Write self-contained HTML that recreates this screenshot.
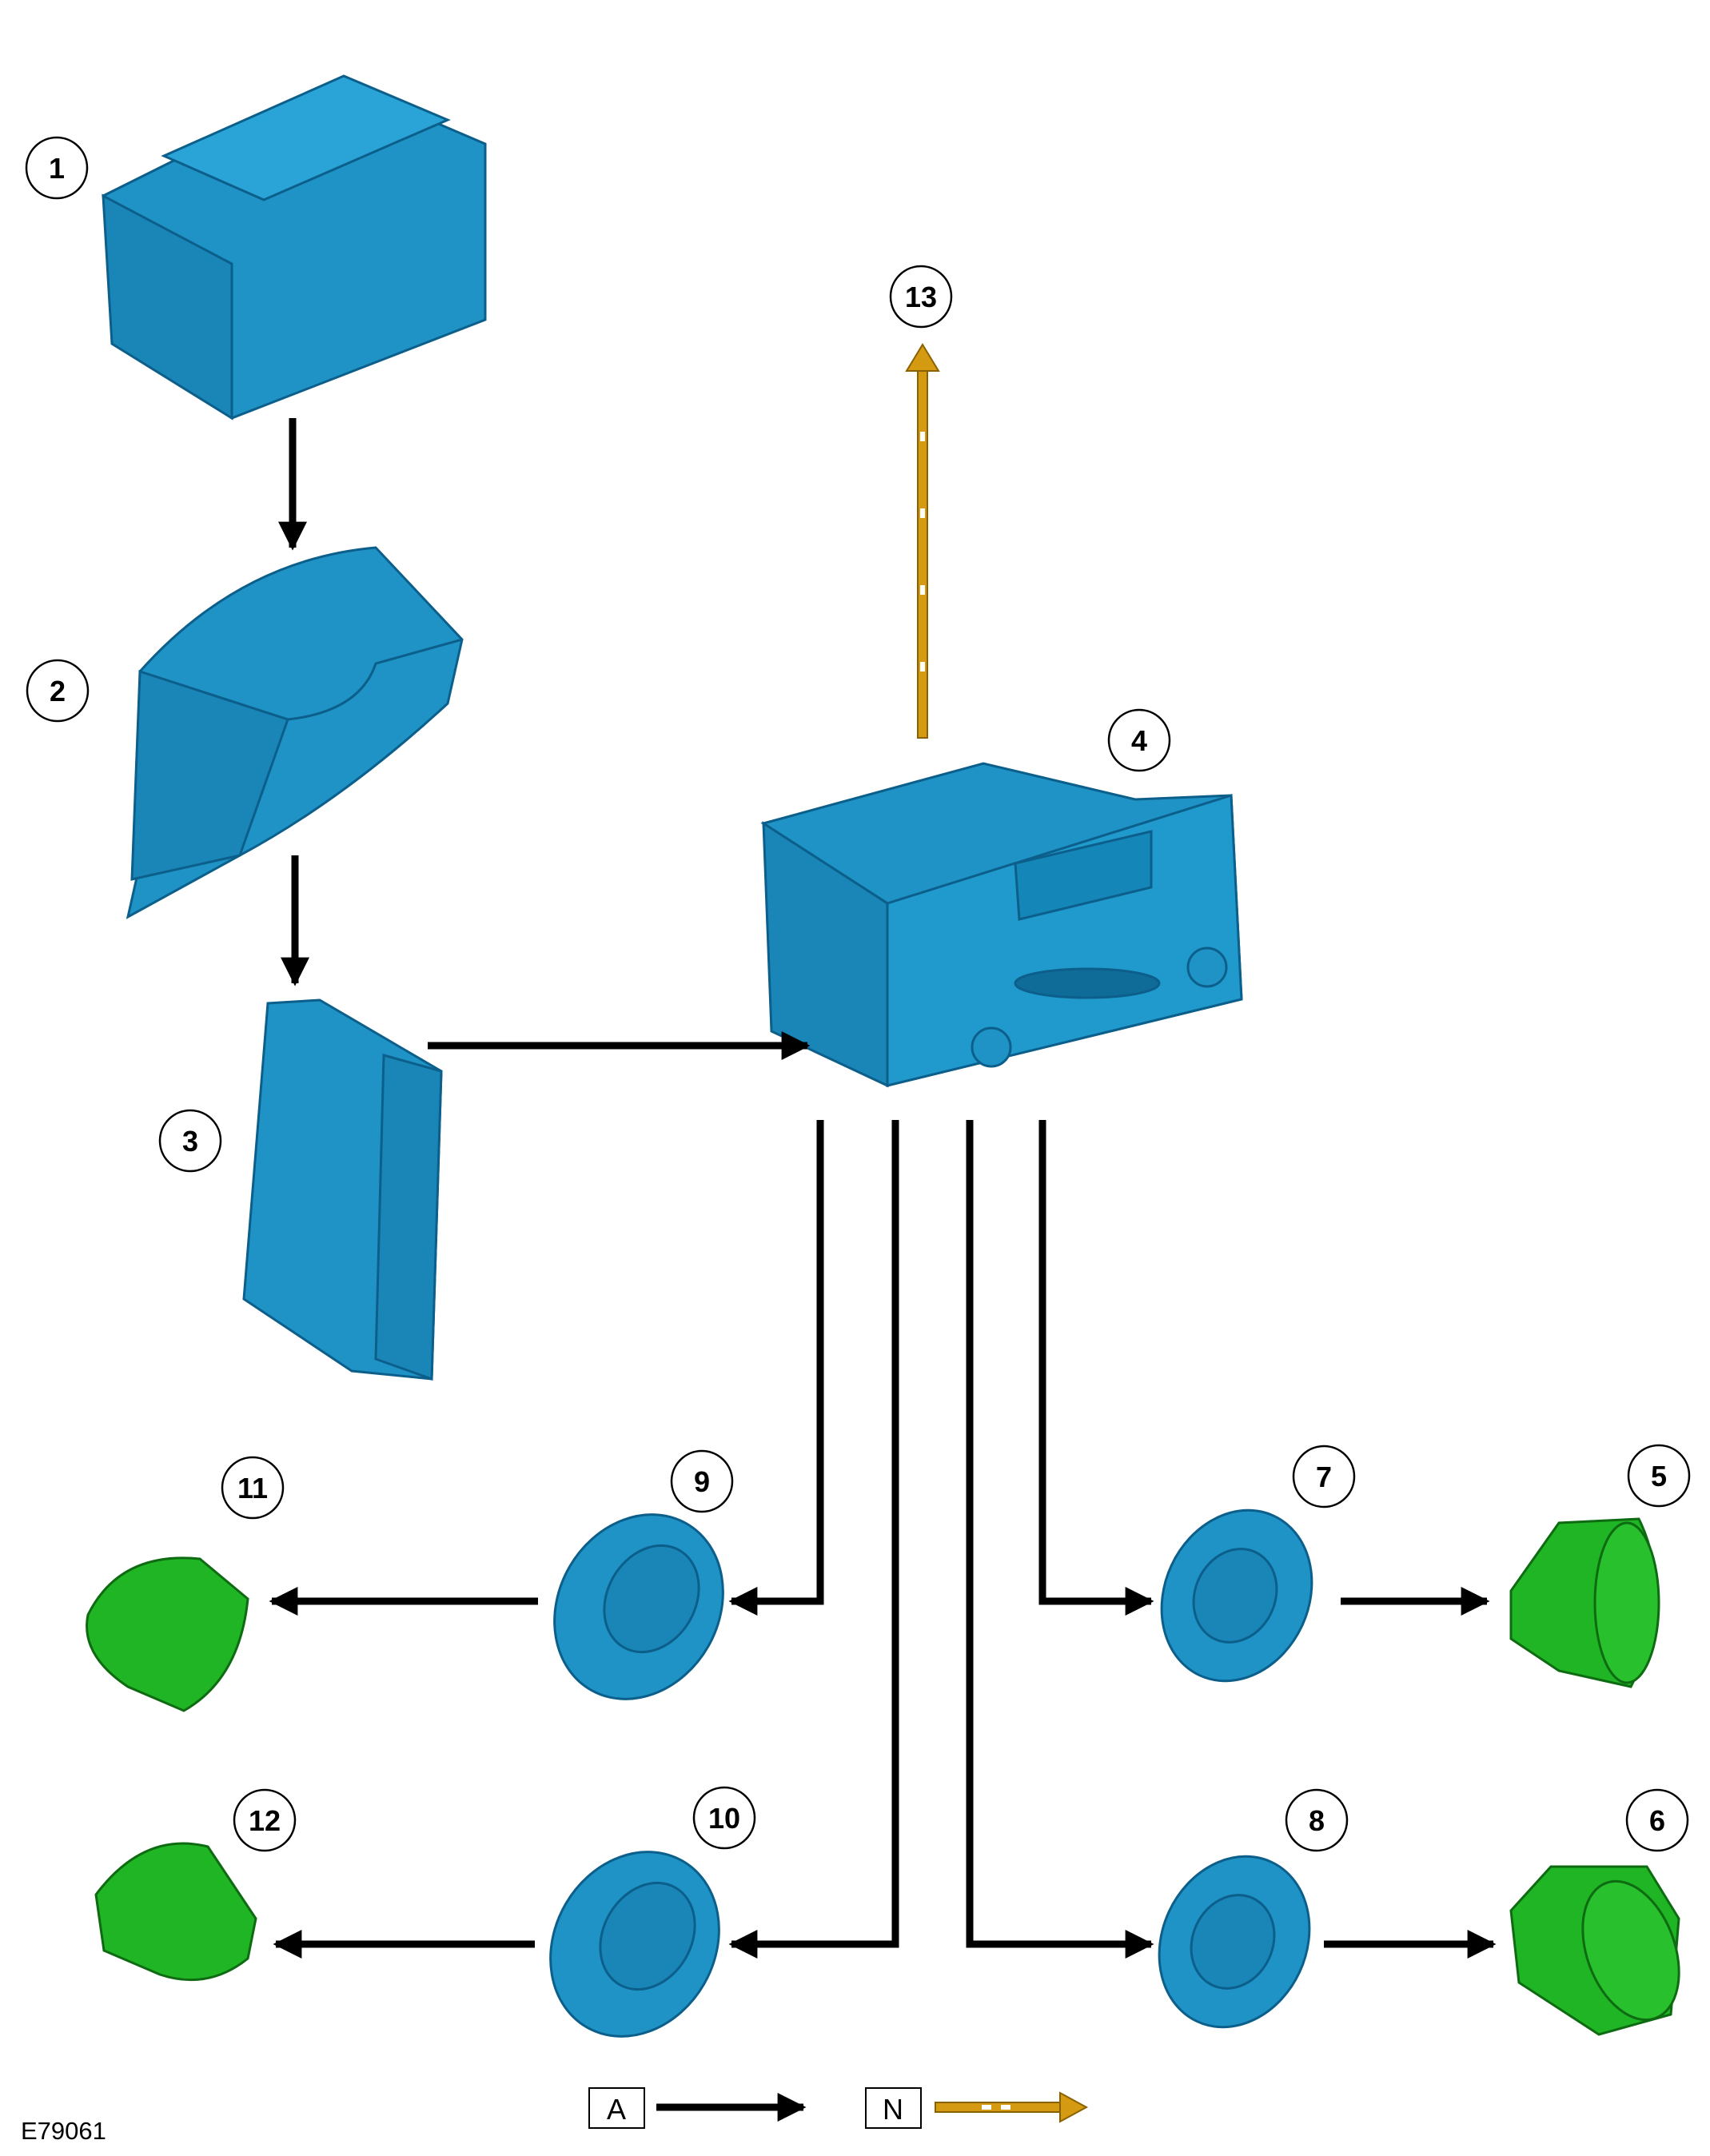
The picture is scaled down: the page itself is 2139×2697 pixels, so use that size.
<!DOCTYPE html>
<html><head><meta charset="utf-8"><style>
html,body{margin:0;padding:0;background:#fff}
svg{display:block}
text{font-family:"Liberation Sans",sans-serif;font-weight:bold}
</style></head><body>
<svg width="2139" height="2697" viewBox="0 0 2139 2697" xmlns="http://www.w3.org/2000/svg">
<defs>
<marker id="ah" viewBox="0 0 10 10" refX="9" refY="5" markerWidth="4" markerHeight="4" orient="auto" markerUnits="strokeWidth"><path d="M0,0 L10,5 L0,10 z" fill="#000"/></marker>
</defs>
<!-- Battery -->
<g fill="#1f93c6" stroke="#0b5f8a" stroke-width="3">
<polygon points="129,245 420,100 607,180 607,400 290,523 160,430"/>
<polygon points="129,245 290,330 290,523 140,430" fill="#1a86b8"/>
<polygon points="205,195 430,95 560,150 330,250" fill="#2aa3d6"/>
</g>
<!-- Part 2 -->
<g fill="#1f93c6" stroke="#0b5f8a" stroke-width="3">
<path d="M175,840 Q300,700 470,685 L578,800 L560,880 Q430,1000 300,1070 L160,1147 L175,1080 Z"/>
<path d="M175,840 L360,900 Q450,890 470,830 L578,800" fill="none"/>
<path d="M175,840 L165,1100 L300,1070 L360,900 Z" fill="#1a86b8"/>
</g>
<!-- Part 3 -->
<g fill="#1f93c6" stroke="#0b5f8a" stroke-width="3">
<polygon points="335,1255 400,1251 552,1340 540,1725 440,1715 305,1625"/>
<polygon points="480,1320 552,1340 540,1725 470,1700" fill="#1a86b8"/>
</g>
<!-- Radio -->
<g fill="#1f93c6" stroke="#0b5f8a" stroke-width="3">
<polygon points="955,1030 1230,955 1420,1000 1540,995 1553,1250 1110,1358 1110,1130"/>
<polygon points="955,1030 1110,1130 1110,1358 965,1290" fill="#1a86b8"/>
<polygon points="1110,1130 1540,995 1553,1250 1110,1358" fill="#2099cc"/>
<polygon points="1270,1080 1440,1040 1440,1110 1275,1150" fill="#1586b8"/>
<ellipse cx="1360" cy="1230" rx="90" ry="18" fill="#0f6b98"/>
<circle cx="1510" cy="1210" r="24"/><circle cx="1240" cy="1310" r="24"/>
</g>
<!-- Blue speakers -->
<g fill="#1f93c6" stroke="#0b5f8a" stroke-width="3">
<ellipse cx="799" cy="2010" rx="100" ry="120" transform="rotate(30 799 2010)"/>
<ellipse cx="815" cy="2000" rx="55" ry="70" transform="rotate(30 815 2000)" fill="#1a86b8"/>
<ellipse cx="794" cy="2432" rx="100" ry="120" transform="rotate(30 794 2432)"/>
<ellipse cx="810" cy="2422" rx="55" ry="70" transform="rotate(30 810 2422)" fill="#1a86b8"/>
<ellipse cx="1547" cy="1996" rx="90" ry="110" transform="rotate(25 1547 1996)"/>
<ellipse cx="1545" cy="1996" rx="50" ry="60" transform="rotate(25 1545 1996)" fill="#1a86b8"/>
<ellipse cx="1544" cy="2429" rx="90" ry="110" transform="rotate(25 1544 2429)"/>
<ellipse cx="1542" cy="2429" rx="50" ry="60" transform="rotate(25 1542 2429)" fill="#1a86b8"/>
</g>
<!-- Green speakers -->
<g fill="#1fb524" stroke="#0e6b12" stroke-width="3">
<path d="M110,2020 Q150,1940 250,1950 L310,2000 Q300,2100 230,2140 L160,2110 Q100,2070 110,2020Z"/>
<path d="M120,2370 Q180,2290 260,2310 L320,2400 L310,2450 Q260,2490 200,2470 L130,2440 Z"/>
<path d="M1890,1990 L1950,1905 L2050,1900 Q2080,1960 2070,2050 L2040,2110 L1950,2090 L1890,2050 Z"/>
<ellipse cx="2035" cy="2005" rx="40" ry="100" fill="#28c02d"/>
<path d="M1890,2390 L1940,2335 L2060,2335 L2100,2400 L2090,2520 L2000,2545 L1900,2480 Z"/>
<ellipse cx="2040" cy="2440" rx="55" ry="90" transform="rotate(-20 2040 2440)" fill="#28c02d"/>
</g>
<!-- Black connectors -->
<g stroke="#000" stroke-width="9" fill="none">
<line x1="366" y1="523" x2="366" y2="685" marker-end="url(#ah)"/>
<line x1="369" y1="1070" x2="369" y2="1230" marker-end="url(#ah)"/>
<line x1="535" y1="1308" x2="1010" y2="1308" marker-end="url(#ah)"/>
<polyline points="1026,1401 1026,2003 915,2003" marker-end="url(#ah)"/>
<polyline points="1120,1401 1120,2432 915,2432" marker-end="url(#ah)"/>
<polyline points="1213,1401 1213,2432 1440,2432" marker-end="url(#ah)"/>
<polyline points="1304,1401 1304,2003 1440,2003" marker-end="url(#ah)"/>
<line x1="673" y1="2003" x2="340" y2="2003" marker-end="url(#ah)"/>
<line x1="669" y1="2432" x2="345" y2="2432" marker-end="url(#ah)"/>
<line x1="1677" y1="2003" x2="1860" y2="2003" marker-end="url(#ah)"/>
<line x1="1656" y1="2432" x2="1868" y2="2432" marker-end="url(#ah)"/>
<line x1="821" y1="2636" x2="1005" y2="2636" marker-end="url(#ah)"/>
</g>
<!-- Gold arrow 13 -->
<rect x="1148" y="460" width="12" height="463" fill="#d49a12" stroke="#8a6000" stroke-width="2"/>
<g fill="#fff"><rect x="1151" y="540" width="6" height="12"/><rect x="1151" y="636" width="6" height="12"/><rect x="1151" y="732" width="6" height="12"/><rect x="1151" y="828" width="6" height="12"/></g>
<polygon points="1154,431 1134,464 1174,464" fill="#d49a12" stroke="#8a6000" stroke-width="2"/>
<!-- Legend gold -->
<rect x="1170" y="2630" width="160" height="12" fill="#d49a12" stroke="#8a6000" stroke-width="2"/>
<rect x="1228" y="2633" width="12" height="6" fill="#fff"/><rect x="1252" y="2633" width="12" height="6" fill="#fff"/>
<polygon points="1359,2636 1326,2618 1326,2654" fill="#d49a12" stroke="#8a6000" stroke-width="2"/>
<!-- Legend boxes -->
<rect x="737" y="2612" width="69" height="50" fill="#fff" stroke="#000" stroke-width="2"/>
<text x="771" y="2651" font-size="36" text-anchor="middle" style="font-weight:normal">A</text>
<rect x="1083" y="2612" width="69" height="50" fill="#fff" stroke="#000" stroke-width="2"/>
<text x="1117" y="2651" font-size="36" text-anchor="middle" style="font-weight:normal">N</text>
<text x="26" y="2676" font-size="31" style="font-weight:normal">E79061</text>
<!-- Callouts -->
<g fill="#fff" stroke="#000" stroke-width="2.5">
<circle cx="71" cy="210" r="38"/><circle cx="72" cy="864" r="38"/><circle cx="238" cy="1427" r="38"/>
<circle cx="1425" cy="926" r="38"/><circle cx="1152" cy="371" r="38"/>
<circle cx="316" cy="1861" r="38"/><circle cx="878" cy="1853" r="38"/><circle cx="1656" cy="1847" r="38"/><circle cx="2075" cy="1846" r="38"/>
<circle cx="331" cy="2277" r="38"/><circle cx="906" cy="2274" r="38"/><circle cx="1647" cy="2277" r="38"/><circle cx="2073" cy="2277" r="38"/>
</g>
<g font-size="36" text-anchor="middle">
<text x="71" y="223">1</text><text x="72" y="877">2</text><text x="238" y="1440">3</text>
<text x="1425" y="939">4</text><text x="1152" y="384">13</text>
<text x="316" y="1874">11</text><text x="878" y="1866">9</text><text x="1656" y="1860">7</text><text x="2075" y="1859">5</text>
<text x="331" y="2290">12</text><text x="906" y="2287">10</text><text x="1647" y="2290">8</text><text x="2073" y="2290">6</text>
</g>
</svg>
</body></html>
